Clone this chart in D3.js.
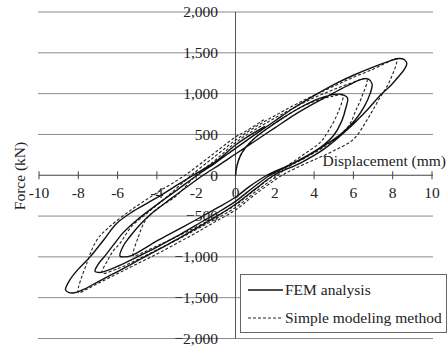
<!DOCTYPE html>
<html><head><meta charset="utf-8">
<script src="https://cdn.jsdelivr.net/npm/d3@7"></script>
<style>
html,body{margin:0;padding:0;background:#fff;}
svg text{font-family:"Liberation Serif","Times New Roman",serif;fill:#222;}
</style></head>
<body><svg id="c" width="447" height="349"></svg>
<script>
// ---- data ----
const xTicks = [-10,-8,-6,-4,-2,0,2,4,6,8,10];
const yTicks = [-2000,-1500,-1000,-500,0,500,1000,1500,2000];
const xTitle = "Displacement (mm)";
const yTitle = "Force (kN)";
const seriesNames = ["FEM analysis","Simple modeling method"];

// FEM analysis: displacement (mm), force (kN)
const femPoints = [
 [0,0],[0.08,120],[0.25,240],[0.55,350],[1.0,460],[1.6,570],[2.4,700],[3.3,830],[4.2,935],[4.9,985],[5.4,990],[5.7,945],
 [5.62,830],[5.4,660],[5.0,490],[4.4,355],[3.6,235],[2.6,110],[1.6,0],[0.7,-140],[0,-270],[-1,-410],[-2,-545],[-3,-675],[-4,-805],[-4.8,-920],[-5.3,-985],[-5.65,-1000],[-5.88,-990],
 [-5.72,-870],[-5.4,-760],[-4.9,-615],[-4.3,-475],[-3.3,-290],[-2.2,-95],[-1.65,0],[-0.8,130],[0,260],[1,420],[2,580],[3,740],[4,880],[5,1010],[5.8,1110],[6.4,1175],[6.75,1180],[6.95,1120],
 [6.85,1000],[6.55,840],[6.1,680],[5.4,510],[4.5,360],[3.4,200],[2.4,80],[1.75,0],[0.9,-150],[0,-320],[-1,-470],[-2,-610],[-3,-750],[-4,-880],[-5,-1000],[-6,-1115],[-6.7,-1180],[-7.0,-1190],[-7.15,-1175],
 [-7.0,-1095],[-6.65,-990],[-6.2,-850],[-5.7,-700],[-5,-545],[-4,-360],[-3,-185],[-1.95,0],[-1,155],[0,330],[1,500],[2,665],[3,830],[4,975],[5,1110],[6,1225],[7,1325],[7.8,1395],[8.3,1430],[8.6,1415],[8.72,1370],
 [8.6,1300],[8.3,1210],[7.9,1100],[7.44,998],[6.7,800],[5.7,560],[4.5,320],[3.3,150],[1.95,0],[1,-170],[0,-355],[-1,-510],[-2,-650],[-3,-790],[-4,-920],[-5,-1050],[-6,-1180],[-7,-1305],[-7.7,-1395],[-8.2,-1440],[-8.5,-1435],[-8.65,-1405],
 [-8.45,-1290],[-8.0,-1150],[-7.4,-1000],[-6.7,-790],[-6.05,-590],[-5.2,-440],[-4,-275],[-3,-125],[-2.15,0],[-1,170],[0,370],[0.8,500],[1.5,600]
];

// Simple modeling method: displacement (mm), force (kN)
const simplePoints = [
 [0,0],[0.08,120],[0.25,240],[0.55,350],[1.0,460],[1.6,570],[2.4,700],[3.3,830],[4.2,920],[4.9,965],[5.45,980],
 [5.2,760],[4.7,530],[4.3,400],[3.5,260],[2.6,110],[1.95,0],[1,-175],[0,-365],[-1,-505],[-2,-635],[-3,-755],[-4,-865],[-4.7,-945],[-5.2,-985],
 [-4.95,-760],[-4.6,-560],[-4.1,-430],[-3,-250],[-2,0],[-1,190],[0,400],[1,560],[2,700],[3,830],[4,950],[5,1050],[6,1140],[6.68,1182],
 [6.42,957],[6.1,780],[5.83,632],[5.3,490],[4.6,360],[3.6,220],[2.6,90],[2.15,0],[1,-205],[0,-395],[-1,-535],[-2,-665],[-3,-795],[-4,-915],[-5,-1035],[-6,-1145],[-6.8,-1200],
 [-6.5,-1040],[-6.2,-920],[-5.88,-835],[-5.3,-630],[-4.5,-465],[-3.5,-265],[-2.25,0],[-1,240],[0,430],[1,590],[2,730],[3,860],[4,980],[5,1090],[6,1200],[7,1300],[7.7,1380],[8.2,1426],
 [7.86,1161],[7.27,917],[6.68,672],[6.0,440],[5,300],[4,190],[3,80],[2.37,0],[1,-235],[0,-425],[-1,-565],[-2,-705],[-3,-835],[-4,-965],[-5,-1085],[-6,-1205],[-7,-1325],[-7.6,-1400],[-8.0,-1438],
 [-7.57,-1079],[-7.06,-795],[-6.5,-650],[-5.37,-435],[-4,-215],[-2.57,0],[-1.3,230],[0,468],[0.6,550],[1.5,690]
];

// ---- drawing ----
const svg = d3.select("#c");
const x = d3.scaleLinear().domain([-10,10]).range([39,432]);
const y = d3.scaleLinear().domain([-2000,2000]).range([338.5,12]);
const fmt = d3.format(",");

// horizontal gridlines
svg.append("g").selectAll("line").data(yTicks.filter(d=>d!==0)).join("line")
  .attr("x1",38).attr("x2",433).attr("y1",d=>y(d)).attr("y2",d=>y(d))
  .attr("stroke","#8a8a8a").attr("stroke-width",1);

// vertical axis line
svg.append("line").attr("x1",x(0)).attr("x2",x(0)).attr("y1",y(2000)).attr("y2",y(-2000))
  .attr("stroke","#555").attr("stroke-width",1);

// x axis at zero
svg.append("line").attr("x1",x(-10)).attr("x2",x(10)+1).attr("y1",y(0)).attr("y2",y(0))
  .attr("stroke","#444").attr("stroke-width",1);
svg.append("g").selectAll("line").data(xTicks).join("line")
  .attr("x1",d=>x(d)).attr("x2",d=>x(d)).attr("y1",y(0)-4).attr("y2",y(0)+4)
  .attr("stroke","#444").attr("stroke-width",1);

// curves
const line = d3.line().x(d=>x(d[0])).y(d=>y(d[1])).curve(d3.curveCatmullRom.alpha(0.5));
svg.append("path").datum(simplePoints).attr("d",line).attr("fill","none")
  .attr("stroke","#222").attr("stroke-width",1.1).attr("stroke-dasharray","3,2");
svg.append("path").datum(femPoints).attr("d",line).attr("fill","none")
  .attr("stroke","#111").attr("stroke-width",1.4);

// y tick labels
svg.append("g").selectAll("text").data(yTicks).join("text")
  .attr("x",218).attr("y",d=>y(d)).attr("dy","0.35em").attr("text-anchor","end")
  .attr("font-size",15.5).text(d=>fmt(d));

// x tick labels
svg.append("g").selectAll("text").data(xTicks).join("text")
  .attr("x",d=>x(d)).attr("y",198).attr("text-anchor","middle")
  .attr("font-size",15.5).text(d=>d);

// axis titles
svg.append("text").attr("x",446).attr("y",166).attr("text-anchor","end")
  .attr("font-size",15.5).text(xTitle);
svg.append("text").attr("transform","translate(25,176) rotate(-90)").attr("text-anchor","middle")
  .attr("font-size",15.5).text(yTitle);

// legend
const lg = svg.append("g");
lg.append("rect").attr("x",240.5).attr("y",274.5).attr("width",206).attr("height",58)
  .attr("fill","#fff").attr("stroke","#666").attr("stroke-width",1);
lg.append("line").attr("x1",248).attr("x2",283).attr("y1",290).attr("y2",290)
  .attr("stroke","#111").attr("stroke-width",1.4);
lg.append("line").attr("x1",248).attr("x2",283).attr("y1",318).attr("y2",318)
  .attr("stroke","#222").attr("stroke-width",1.1).attr("stroke-dasharray","3,2");
lg.append("text").attr("x",285).attr("y",295).attr("font-size",15.5).text(seriesNames[0]);
lg.append("text").attr("x",285).attr("y",323).attr("font-size",15.5).text(seriesNames[1]);
</script></body></html>
